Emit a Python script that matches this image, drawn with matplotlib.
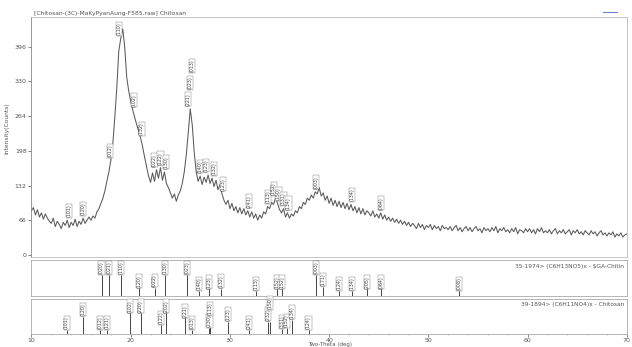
import numpy as np
import matplotlib.pyplot as plt

# measured pattern, 10-70 deg two-theta, 0.2 deg step
two_theta = np.linspace(10, 70, 301)
counts = [84, 90, 76, 86, 72, 80, 68, 78, 70, 64,
          60, 70, 54, 64, 58, 50, 62, 56, 66, 52,
          62, 56, 68, 54, 64, 58, 70, 60, 66, 72,
          66, 74, 70, 82, 88, 98, 108, 122, 140, 158,
          180, 212, 262, 318, 388, 412, 430, 395, 338, 312,
          292, 276, 262, 248, 236, 222, 206, 186, 168, 150,
          138, 156, 140, 162, 146, 166, 142, 158, 136, 128,
          118, 108, 116, 102, 114, 122, 136, 158, 190, 232,
          278, 248, 196, 158, 140, 150, 134, 148, 138, 152,
          136, 146, 130, 142, 124, 134, 116, 104, 96, 104,
          88, 98, 84, 92, 80, 90, 78, 88, 76, 84,
          72, 82, 70, 78, 66, 76, 70, 82, 78, 92,
          88, 100, 96, 108, 98, 86, 80, 88, 72, 80,
          70, 78, 74, 84, 80, 92, 88, 100, 96, 108,
          104, 114, 108, 120, 116, 128, 112, 118, 104, 112,
          98, 108, 94, 104, 92, 102, 90, 100, 88, 98,
          86, 96, 84, 92, 80, 90, 78, 88, 76, 84,
          80, 74, 84, 72, 78, 70, 80, 68, 76, 66,
          72, 64, 70, 62, 68, 60, 66, 58, 64, 56,
          62, 54, 60, 56, 50, 60, 52, 58, 48, 56,
          52, 58, 48, 56, 50, 54, 46, 56, 50, 52,
          48, 54, 46, 52, 56, 46, 52, 44, 50, 54,
          46, 52, 44, 50, 54, 46, 50, 42, 52, 46,
          50, 44, 52, 46, 54, 42, 50, 46, 52, 44,
          48, 42, 50, 44, 52, 40, 48, 46, 42, 50,
          44, 50, 42, 48, 40, 50, 44, 52, 42, 46,
          42, 48, 40, 46, 50, 40, 46, 42, 48, 40,
          44, 48, 38, 46, 42, 48, 40, 44, 38, 46,
          42, 38, 46, 40, 44, 36, 42, 46, 38, 42,
          36, 42, 38, 44, 34, 40, 36, 42, 34, 38,
          40]

yticks = [0, 66, 132, 198, 264, 330, 396]
xticks = [10, 20, 30, 40, 50, 60, 70]

# peak labels on the measured pattern
peak_pos = [13.8, 15.2, 17.9, 18.8, 20.3, 21.1, 22.4, 23.0, 23.6, 25.8, 26.0, 26.2,
            27.0, 27.6, 28.4, 29.3, 31.9, 33.8, 34.4, 34.9, 35.4, 35.9, 38.7, 42.3, 45.2]
peak_hkl = ['(101)', '(120)', '(012)', '(110)', '(102)', '(132)', '(022)', '(122)', '(130)',
            '(221)', '(023)', '(013)', '(140)', '(123)', '(132)', '(123)', '(241)', '(113)',
            '(152)', '(150)', '(331)', '(134)', '(003)', '(134)', '(064)']

# 35-1974 SGA-Chitin reference sticks
chitin_pos = [17.06, 17.82, 19.06, 20.83, 22.41, 23.48, 25.66, 26.86, 27.87, 29.11,
              32.63, 34.74, 35.24, 38.66, 39.40, 41.0, 42.34, 43.85, 45.2, 53.07]
chitin_int = [100, 100, 100, 36, 39, 100, 100, 24, 31, 35,
              24, 31, 31, 100, 44, 24, 24, 31, 31, 24]
chitin_hkl = ['(020)', '(021)', '(110)', '(120)', '(022)', '(130)', '(023)', '(140)', '(123)', '(132)',
              '(113)', '(152)', '(152)', '(003)', '(171)', '(124)', '(134)', '(205)', '(064)', '(008)']

# 39-1894 Chitosan reference sticks
chitosan_pos = [13.54, 15.21, 16.88, 17.62, 19.97, 21.0, 23.02, 23.59, 25.5, 26.16,
                27.94, 28.01, 29.85, 31.89, 33.8, 34.04, 35.24, 35.71, 36.25, 37.92]
chitosan_int = [20, 84, 20, 20, 100, 100, 44, 100, 76, 20,
                30, 50, 60, 20, 60, 60, 25, 30, 70, 20]
chitosan_hkl = ['(101)', '(120)', '(012)', '(121)', '(102)', '(220)', '(122)', '(202)', '(221)', '(013)',
                '(230)', '(113)', '(123)', '(241)', '(232)', '(150)', '(331)', '(152)', '(134)', '(124)']

gray = '#5a5a5a'
fs_lbl = 3.4


def put_labels(ax, xs, ybase, txts, h, gap, near=0.45):
    placed = []
    for x, y0, t in zip(xs, ybase, txts):
        y = y0 + gap
        moved = True
        while moved:
            moved = False
            for px, pb, pt in placed:
                if abs(px - x) < near and y < pt and y + h > pb:
                    y = pt + gap * 0.3
                    moved = True
        placed.append((x, y, y + h))
        ax.text(x, y, t, rotation=90, ha='center', va='bottom', fontsize=fs_lbl, color='#444444',
                bbox=dict(boxstyle='square,pad=0.12', fc='white', ec='#777777', lw=0.3))


def frame(ax, col='#aaaaaa'):
    for s in ax.spines.values():
        s.set_color(col)
        s.set_linewidth(0.6)


fig = plt.figure(figsize=(6.32, 3.47), dpi=100)

ax = fig.add_axes([0.0498, 0.2594, 0.942, 0.692])
ax.plot(two_theta, counts, color=gray, lw=0.75)
ax.set_xlim(10, 70)
ax.set_ylim(-4, 453)
ax.set_yticks(yticks)
ax.set_xticks([])
ax.tick_params(axis='y', labelsize=4.5, length=2, width=0.5, pad=1.5, colors='#555555')
frame(ax, '#bbbbbb')
ax.spines['left'].set_color('#888888')

cts = np.array(counts)
tops = [cts[np.abs(two_theta - p) <= 0.25].max() for p in peak_pos]
put_labels(ax, peak_pos, tops, peak_hkl, h=30, gap=6)

ax.text(0.004, 1.005, '[Chitosan-(3C)-MaKyPyanAung-F585.raw] Chitosan', transform=ax.transAxes,
        fontsize=4.3, color='#555555', ha='left', va='bottom')
fig.text(0.011, 0.63, 'Intensity(Counts)', rotation=90, fontsize=4.3, color='#555555',
         ha='center', va='center')
fig.add_artist(plt.Line2D([0.954, 0.976], [0.966, 0.966], color='#6f7fd0', lw=0.8))

ax2 = fig.add_axes([0.0498, 0.147, 0.942, 0.1037])
ax2.vlines(chitin_pos, 0, chitin_int, color='#444444', lw=0.7)
ax2.set_xlim(10, 70)
ax2.set_ylim(0, 170)
ax2.set_xticks([])
ax2.set_yticks([])
frame(ax2)
put_labels(ax2, chitin_pos, chitin_int, chitin_hkl, h=55, gap=4)
ax2.text(0.995, 0.9, '35-1974> (C6H13NO5)x - $GA-Chitin', transform=ax2.transAxes,
         fontsize=4.2, color='#555555', ha='right', va='top')

ax3 = fig.add_axes([0.0498, 0.0375, 0.942, 0.1009])
ax3.vlines(chitosan_pos, 0, chitosan_int, color='#444444', lw=0.7)
ax3.set_xlim(10, 70)
ax3.set_ylim(0, 170)
ax3.set_yticks([])
ax3.set_xticks(xticks)
ax3.set_xticks(np.arange(10, 71, 2), minor=True)
ax3.tick_params(axis='x', labelsize=4.5, length=2, width=0.5, pad=1, colors='#555555')
ax3.tick_params(axis='x', which='minor', length=1, width=0.4, colors='#999999')
frame(ax3)
put_labels(ax3, chitosan_pos, chitosan_int, chitosan_hkl, h=55, gap=4)
ax3.text(0.995, 0.9, '39-1894> (C6H11NO4)x - Chitosan', transform=ax3.transAxes,
         fontsize=4.2, color='#555555', ha='right', va='top')

fig.text(0.523, 0.001, 'Two-Theta (deg)', fontsize=4.0, color='#555555', ha='center', va='bottom')

fig.savefig('out.png', dpi=100)
